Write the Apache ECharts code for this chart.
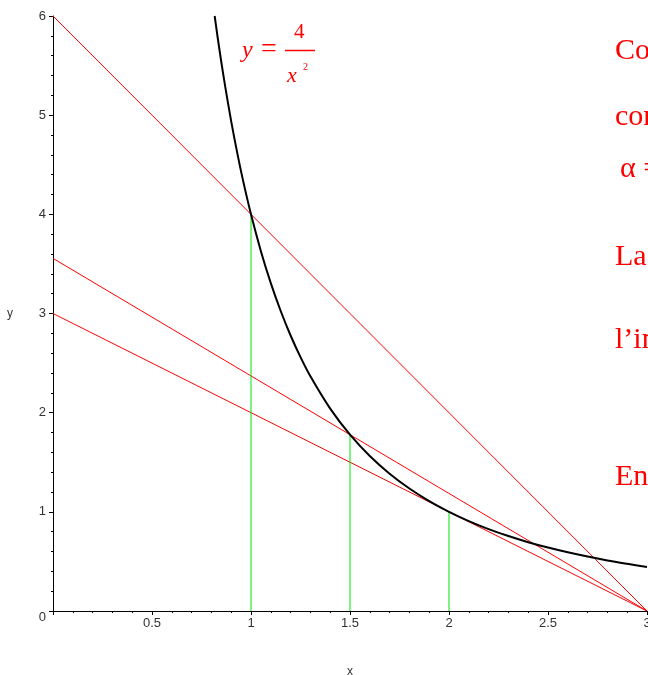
<!DOCTYPE html>
<html>
<head>
<meta charset="utf-8">
<script src="https://cdn.jsdelivr.net/npm/echarts@6/dist/echarts.min.js"></script>
<style>html,body{margin:0;padding:0;background:#fff;overflow:hidden;}#c{width:648px;height:675px;}</style>
</head>
<body>
<div id="c"></div>
<script>
// Curve y = 4/x^2
const curveX = [0.8165, 0.83, 0.85, 0.87, 0.9, 0.93, 0.96, 1.0, 1.05, 1.1, 1.15, 1.2, 1.25, 1.3, 1.4, 1.5, 1.6, 1.7, 1.8, 1.9, 2.0, 2.1, 2.2, 2.3, 2.4, 2.5, 2.6, 2.7, 2.8, 2.9, 3.0];
const curveY = [6.0, 5.806, 5.536, 5.285, 4.938, 4.625, 4.340, 4.0, 3.628, 3.306, 3.025, 2.778, 2.56, 2.367, 2.041, 1.778, 1.5625, 1.384, 1.235, 1.108, 1.0, 0.907, 0.826, 0.756, 0.694, 0.64, 0.592, 0.549, 0.510, 0.476, 0.444];
// Red lines: from y-intercept to the common point (3, 0)
const redInterceptY = [6, 3.556, 3];
const pivotPoint = [3, 0];
// Green verticals: from x axis to the curve
const greenX = [1, 1.5, 2];
const greenTopY = [4, 1.778, 1];
// Axis ticks
const xTicks = [0, 0.5, 1, 1.5, 2, 2.5, 3];
const yTicks = [0, 1, 2, 3, 4, 5, 6];
// Text on the right (cut by the page edge)
const sideTexts = ['Co', 'con', '\u03B1 =', 'La', 'l\u2019in', 'En'];

const series = [];
redInterceptY.forEach(function (b) {
  series.push({ type: 'line', data: [[0, b], pivotPoint], symbol: 'none', silent: true,
    itemStyle: { color: '#ff0000' },
    lineStyle: { color: '#ff0000', width: 1 }, z: 2 });
});
greenX.forEach(function (gx, i) {
  series.push({ type: 'line', data: [[gx, 0], [gx, greenTopY[i]]], symbol: 'none', silent: true,
    itemStyle: { color: '#00e000' },
    lineStyle: { color: '#00e000', width: 1 }, z: 2 });
});
series.push({ type: 'line', data: curveX.map(function (x, i) { return [x, curveY[i]]; }),
  symbol: 'none', smooth: 0.3, silent: true,
  itemStyle: { color: '#000' },
  lineStyle: { color: '#000', width: 2 }, z: 3 });

function txt(x, baseline, s, font, size) {
  return { type: 'text', x: x, y: baseline - Math.round(size * 0.82), silent: true,
    style: { text: s, fill: '#ff0000', font: font, verticalAlign: 'top' } };
}
const graphics = [];
const sideLayout = [[615, 61], [615, 127], [620, 179], [615, 267], [615, 350], [615, 487]];
sideTexts.forEach(function (t, i) {
  graphics.push(txt(sideLayout[i][0], sideLayout[i][1], t, '30px "Liberation Serif"', 30));
});
// formula y = 4 / x^2
graphics.push(txt(242, 59, 'y', 'italic 24px "Liberation Serif"', 24));
graphics.push(txt(261, 59, '=', '28px "Liberation Serif"', 28));
graphics.push({ type: 'line', silent: true, shape: { x1: 285, y1: 50.5, x2: 315, y2: 50.5 }, style: { stroke: '#ff0000', lineWidth: 1.5 } });
graphics.push(txt(294, 39, '4', '21px "Liberation Serif"', 21));
graphics.push(txt(287, 83, 'x', 'italic 22px "Liberation Serif"', 22));
graphics.push(txt(303, 70, '2', '10px "Liberation Serif"', 10));

const chart = echarts.init(document.getElementById('c'), null, { renderer: 'canvas' });
chart.setOption({
  backgroundColor: '#fff',
  animation: false,
  grid: { left: 53, right: 1, top: 16, bottom: 64, containLabel: false, outerBoundsMode: 'none' },
  xAxis: {
    type: 'value', min: xTicks[0], max: xTicks[xTicks.length - 1], interval: 0.5,
    name: 'x', nameLocation: 'middle', nameGap: 55,
    nameTextStyle: { color: '#333', fontFamily: 'Liberation Sans', fontSize: 12 },
    axisLine: { show: true, onZero: false, lineStyle: { color: '#000', width: 1 } },
    axisTick: { show: true, length: 4, lineStyle: { color: '#000' } },
    minorTick: { show: true, splitNumber: 5, length: 2, lineStyle: { color: '#000' } },
    splitLine: { show: false },
    axisLabel: { color: '#333', fontFamily: 'Liberation Sans', fontSize: 13, margin: 6,
      formatter: function (v) { return v === 0 ? '' : String(v); } }
  },
  yAxis: {
    type: 'value', min: yTicks[0], max: yTicks[yTicks.length - 1], interval: 1,
    name: 'y', nameLocation: 'middle', nameGap: 40, nameRotate: 0,
    nameTextStyle: { color: '#333', fontFamily: 'Liberation Sans', fontSize: 12 },
    axisLine: { show: true, onZero: false, lineStyle: { color: '#000', width: 1 } },
    axisTick: { show: true, length: 4, lineStyle: { color: '#000' } },
    minorTick: { show: true, splitNumber: 5, length: 2, lineStyle: { color: '#000' } },
    splitLine: { show: false },
    axisLabel: { color: '#333', fontFamily: 'Liberation Sans', fontSize: 13, margin: 7,
      formatter: function (v) { return v === 0 ? '{z|0}' : String(v); },
      rich: { z: { color: '#333', fontFamily: 'Liberation Sans', fontSize: 13, padding: [12, 0, 0, 0] } } }
  },
  series: series,
  graphic: graphics
});
</script>
</body>
</html>
